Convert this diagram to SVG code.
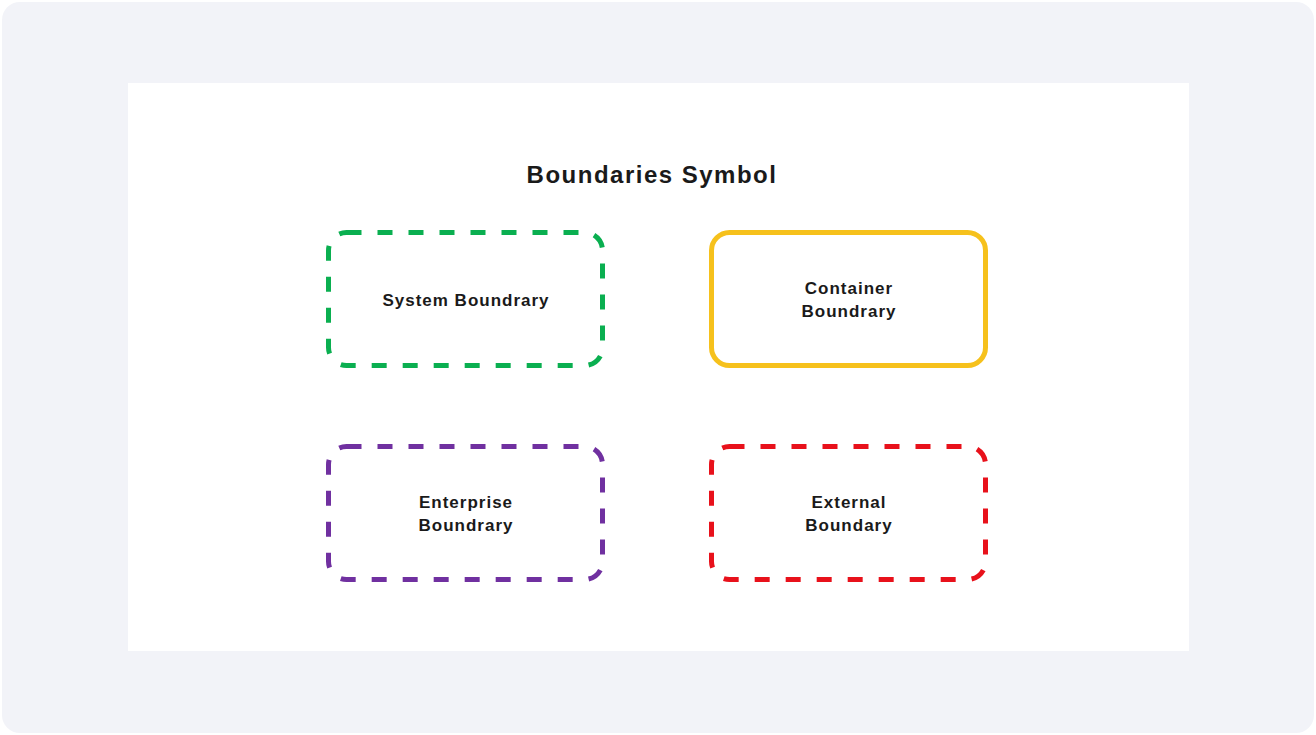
<svg xmlns="http://www.w3.org/2000/svg" width="1316" height="735" viewBox="0 0 1316 735">
<style>
.box{fill:none;stroke-width:5}
.dash{stroke-dasharray:15 16}
.lbl{font-family:"Liberation Sans",Arial,sans-serif;font-weight:bold;font-size:17px;letter-spacing:1px;fill:#1a1a1a;text-anchor:middle}
.title{font-family:"Liberation Sans",Arial,sans-serif;font-weight:bold;font-size:24px;letter-spacing:1.5px;fill:#1a1a1a;text-anchor:middle}
</style>
<rect x="0" y="0" width="1316" height="735" fill="#ffffff"/>
<rect x="2" y="2" width="1312" height="731" rx="18" fill="#f2f3f8"/>
<rect x="128" y="83" width="1061" height="568" fill="#ffffff"/>
<text class="title" x="652" y="183">Boundaries Symbol</text>
<g id="system-boundary">
<rect class="box dash" x="328.500" y="232.500" width="274" height="133" rx="18" stroke="#0aaf50"/>
<text class="lbl" x="466" y="306">System Boundrary</text>
</g>
<g id="container-boundary">
<rect class="box" x="711.500" y="232.500" width="274" height="133" rx="18" stroke="#f6c11c"/>
<text class="lbl" x="849" y="294">Container</text>
<text class="lbl" x="849" y="317">Boundrary</text>
</g>
<g id="enterprise-boundary">
<rect class="box dash" x="328.500" y="446.500" width="274" height="133" rx="18" stroke="#7030a0"/>
<text class="lbl" x="466" y="508">Enterprise</text>
<text class="lbl" x="466" y="531">Boundrary</text>
</g>
<g id="external-boundary">
<rect class="box dash" x="711.500" y="446.500" width="274" height="133" rx="18" stroke="#e8111b"/>
<text class="lbl" x="849" y="508">External</text>
<text class="lbl" x="849" y="531">Boundary</text>
</g>
<g id="connectors"></g>
</svg>
